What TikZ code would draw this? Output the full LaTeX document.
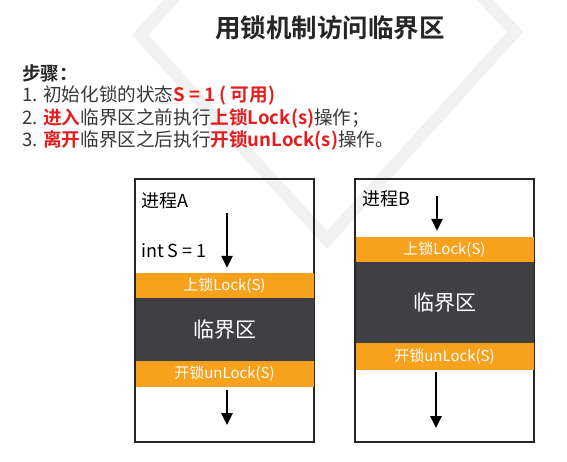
\documentclass[tikz,border=0pt]{standalone}
\usepackage{fontspec}
\setmainfont{Noto Sans CJK SC}[BoldFont={Noto Sans CJK SC Bold}]
\usetikzlibrary{arrows.meta}
\definecolor{lockorange}{RGB}{247,161,28}
\definecolor{critdark}{RGB}{64,63,68}
\definecolor{hired}{RGB}{226,30,30}
\definecolor{bodytext}{RGB}{55,55,55}
\definecolor{markgray}{RGB}{241,241,241}
\tikzset{
  procbox/.style={draw=black!85, line width=1.8pt, inner sep=0pt},
  lockband/.style={fill=lockorange, inner sep=0pt, text=white, font=\fontsize{15}{17}\selectfont},
  critband/.style={fill=critdark, inner sep=0pt, text=white, font=\fontsize{21}{24}\selectfont},
  flowarrow/.style={line width=2.6pt, -{Triangle[width=11pt,length=12pt]}},
  steptext/.style={anchor=west, inner sep=0pt, text=bodytext, font=\fontsize{18.6}{20}\selectfont},
  boxlabel/.style={anchor=west, inner sep=0pt, font=\fontsize{18}{20}\selectfont},
}
\newcommand{\hot}[1]{\textcolor{hired}{\textbf{#1}}}
\begin{document}
\begin{tikzpicture}[x=1pt,y=-1pt]
  \useasboundingbox (0,0) rectangle (567,461);
  % faint diamond watermark in the background
  \begin{scope}
    \clip (0,0) rectangle (567,461);
    \draw[markgray, line width=12pt, line join=miter]
      (140,35) -- (327,240) -- (515,32) -- (327,-170) -- cycle;
  \end{scope}

  % title and steps
  \node[font=\fontsize{25.5}{28}\selectfont\bfseries, text=black!85] (title) at (330,28) {用锁机制访问临界区};
  \node[steptext, font=\fontsize{18.6}{20}\selectfont\bfseries, text=black!85] (steps) at (22,73) {步骤：};
  \node[steptext] (s1) at (22,96) {1. 初始化锁的状态\hot{S = 1 ( 可用)}};
  \node[steptext] (s2) at (22,118) {2. \hot{进入}临界区之前执行\hot{上锁Lock(s)}操作；};
  \node[steptext] (s3) at (22,140) {3. \hot{离开}临界区之后执行\hot{开锁unLock(s)}操作。};

  % process A
  \node[procbox, minimum width=179pt, minimum height=263pt] (boxA) at (224.5,310.5) {};
  \node[lockband, minimum width=178pt, minimum height=25pt] (lockA) at (224.5,285.5) {上锁Lock(S)};
  \node[critband, minimum width=178pt, minimum height=63pt] (critA) at (224.5,329.5) {临界区};
  \node[lockband, minimum width=178pt, minimum height=26pt] (unlockA) at (224.5,374) {开锁unLock(S)};
  \node[boxlabel] (nameA) at (141,201) {进程A};
  \node[boxlabel] (initA) at (141,251) {int S = 1};
  \coordinate (inA) at (227,213);
  \coordinate (outA) at (227,425);
  \draw[flowarrow] (inA) -- ([yshift=5pt]lockA.north -| inA);
  \draw[flowarrow] ([yshift=-3pt]unlockA.south -| outA) -- (outA);

  % process B
  \node[procbox, minimum width=179pt, minimum height=263pt] (boxB) at (444.5,310.5) {};
  \node[lockband, minimum width=178pt, minimum height=25pt] (lockB) at (444.5,249.5) {上锁Lock(S)};
  \node[critband, minimum width=178pt, minimum height=81pt] (critB) at (444.5,302.5) {临界区};
  \node[lockband, minimum width=178pt, minimum height=27pt] (unlockB) at (444.5,356.5) {开锁unLock(S)};
  \node[boxlabel] (nameB) at (362,199) {进程B};
  \coordinate (inB) at (437,196);
  \coordinate (outB) at (436,428);
  \draw[flowarrow] (inB) -- ([yshift=6pt]lockB.north -| inB);
  \draw[flowarrow] ([yshift=-2pt]unlockB.south -| outB) -- (outB);
\end{tikzpicture}
\end{document}
